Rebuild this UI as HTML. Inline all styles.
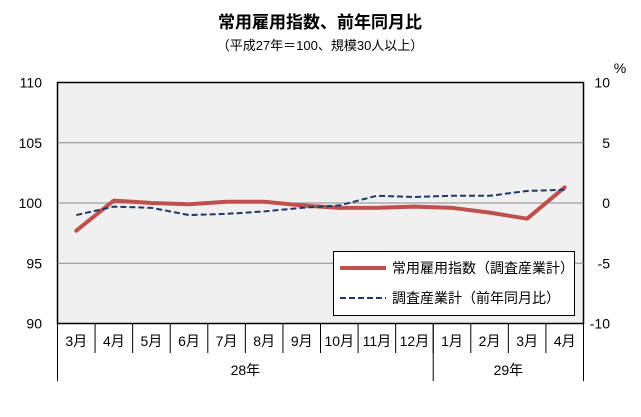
<!DOCTYPE html>
<html><head><meta charset="utf-8"><style>
body{margin:0;background:#fff;}
svg{display:block;font-family:"Liberation Sans","Noto Sans CJK JP",sans-serif;}
</style></head><body>
<svg width="641" height="417" viewBox="0 0 641 417">
<text x="320" y="28" text-anchor="middle" font-size="17" font-weight="bold">常用雇用指数、前年同月比</text>
<text x="320" y="50" text-anchor="middle" font-size="13">（平成27年＝100、規模30人以上）</text>
<rect x="57.5" y="82.5" width="526" height="241" fill="#f0f0f0" stroke="#000" stroke-width="1.5"/>
<g id="grid"></g>
<g id="axes"></g>
<g id="series"></g>
<g>
<rect x="333.5" y="251.5" width="241" height="64" fill="#fff" stroke="#000"/>
<line x1="340" y1="268" x2="386" y2="268" stroke="#c0504d" stroke-width="4"/>
<text x="392" y="273" font-size="14">常用雇用指数（調査産業計）</text>
<line x1="340" y1="298" x2="386" y2="298" stroke="#1f3864" stroke-width="2" stroke-dasharray="6,3"/>
<text x="392" y="303" font-size="14">調査産業計（前年同月比）</text>
</g>
<text x="620" y="73" text-anchor="middle" font-size="14">%</text>
</svg>
<script>
const categories=["3月","4月","5月","6月","7月","8月","9月","10月","11月","12月","1月","2月","3月","4月"];
const indexValues=[97.7,100.2,100.0,99.9,100.1,100.1,99.8,99.6,99.6,99.7,99.6,99.2,98.7,101.3];
const yoyValues=[-1.0,-0.3,-0.4,-1.0,-0.9,-0.7,-0.4,-0.2,0.6,0.5,0.6,0.6,1.0,1.1];
const leftTicks=[90,95,100,105,110];
const rightTicks=[-10,-5,0,5,10];
const years=[{label:"28年",start:0,end:10},{label:"29年",start:10,end:14}];
const NS="http://www.w3.org/2000/svg";
const X0=57.5,W=526,Y0=82.5,H=241;
const bw=W/categories.length;
const xc=i=>X0+bw*(i+0.5);
const yL=v=>Y0+H*(110-v)/20;
const yR=v=>Y0+H*(10-v)/20;
function mk(tag,attrs,parent,text){const e=document.createElementNS(NS,tag);for(const k in attrs)e.setAttribute(k,attrs[k]);if(text!==undefined)e.textContent=text;parent.appendChild(e);return e;}
const grid=document.getElementById('grid'),axes=document.getElementById('axes'),series=document.getElementById('series');
leftTicks.forEach(t=>{
  const y=yL(t);
  if(t>90&&t<110){const g=mk('line',{x1:X0,x2:X0+W,y1:y,y2:y,stroke:'#888','stroke-width':1},grid);
  
  }
  const tl=mk('text',{x:42,y:y+5,'text-anchor':'end','font-size':14},axes,String(t));
  
  
});
rightTicks.forEach(t=>{
  const y=yR(t);
  const tl=mk('text',{x:610,y:y+5,'text-anchor':'end','font-size':14},axes,String(t));
  
  
});
categories.forEach((c,i)=>{
  const xb=X0+bw*(i+1);
  if(i<categories.length-1){const s=mk('line',{x1:xb,x2:xb,y1:Y0+H,y2:353,stroke:'#000'},axes);
  
  }
  const tl=mk('text',{x:xc(i),y:346,'text-anchor':'middle','font-size':14},axes,c);
  
  
});
mk('line',{x1:X0,x2:X0,y1:Y0+H,y2:381,stroke:'#000'},axes);
mk('line',{x1:X0+W,x2:X0+W,y1:Y0+H,y2:381,stroke:'#000'},axes);
years.forEach((yr,k)=>{
  const xs=X0+bw*yr.start,xe=X0+bw*yr.end;
  if(k>0)mk('line',{x1:xs,x2:xs,y1:Y0+H,y2:381,stroke:'#000'},axes);
  const tl=mk('text',{x:(xs+xe)/2,y:375,'text-anchor':'middle','font-size':14},axes,yr.label);
  
  
});
const p1=mk('polyline',{points:indexValues.map((v,i)=>xc(i)+','+yL(v)).join(' '),fill:'none',stroke:'#c0504d','stroke-width':4,'stroke-linejoin':'round','stroke-linecap':'round'},series);


const p2=mk('polyline',{points:yoyValues.map((v,i)=>xc(i)+','+yR(v)).join(' '),fill:'none',stroke:'#1f3864','stroke-width':2,'stroke-dasharray':'6,3'},series);


</script>
</body></html>
